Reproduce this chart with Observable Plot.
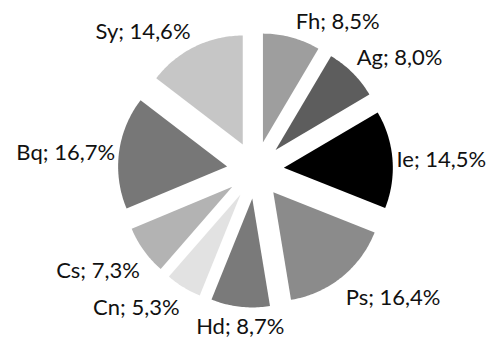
<!DOCTYPE html>
<html>
<head>
<meta charset="utf-8">
<script src="https://cdn.jsdelivr.net/npm/d3@7"></script>
<script src="https://cdn.jsdelivr.net/npm/@observablehq/plot@0.6"></script>
<style>
  html, body { margin: 0; padding: 0; background: #fff; }
  #chart svg { display: block; }
</style>
</head>
<body>
<div id="chart"></div>
<script>
// Categories in clockwise order starting at 12 o'clock, with their shares (%)
const names  = ["Fh", "Ag", "Ie", "Ps", "Hd", "Cn", "Cs", "Bq", "Sy"];
const shares = [8.5, 8.0, 14.5, 16.4, 8.7, 5.3, 7.3, 16.7, 14.6];

// Grey fill for each slice, same order as names
const palette = ["#9e9e9e", "#5d5d5d", "#000000", "#8b8b8b", "#7a7a7a",
                 "#e2e2e2", "#b3b3b3", "#777777", "#c6c6c6"];

// Layout (pixels): pie centre, radius and how far each slice is pulled out
const W = 490, H = 338;
const CX = 254.9, CY = 169.6, R = 109, PULL = 28.5;
const explode = PULL / R;

const total = d3.sum(shares);
const fmt = v => v.toFixed(1).replace(".", ",") + "%";

// Build slice outlines (in radius units, y pointing up) and label anchors
const outline = [];
const labels = [];
let acc = 0;
names.forEach((name, i) => {
  const a0 = acc / total * 2 * Math.PI;
  acc += shares[i];
  const a1 = acc / total * 2 * Math.PI;
  const mid = (a0 + a1) / 2;
  const s = Math.sin(mid), c = Math.cos(mid);
  const ox = explode * s, oy = explode * c;
  outline.push({name, x: ox, y: oy});
  const n = Math.max(2, Math.ceil((a1 - a0) / (Math.PI / 180)));
  for (let k = 0; k <= n; ++k) {
    const a = a0 + (a1 - a0) * k / n;
    outline.push({name, x: ox + Math.sin(a), y: oy + Math.cos(a)});
  }
  // label sits just outside the middle of the slice's outer arc
  const textAnchor = s > 0.2 ? "start" : s < -0.2 ? "end" : "middle";
  const lineAnchor = c > 0.2 ? "bottom" : c < -0.2 ? "top" : "middle";
  const dxp = textAnchor === "start" ? 4 : textAnchor === "end" ? -4 : 0;
  const dyp = lineAnchor === "bottom" ? -8 : lineAnchor === "top" ? 12 : 1;
  labels.push({
    text: `${name}; ${fmt(shares[i])}`,
    x: (1 + explode) * s + dxp / R,
    y: (1 + explode) * c - dyp / R,
    textAnchor, lineAnchor
  });
});

const chart = Plot.plot({
  width: W,
  height: H,
  margin: 0,
  x: {domain: [-CX / R, (W - CX) / R], axis: null},
  y: {domain: [-(H - CY) / R, CY / R], axis: null},
  color: {domain: names, range: palette},
  style: {fontFamily: "Lato, sans-serif", background: "#fff"},
  marks: [
    Plot.line(outline, {x: "x", y: "y", z: "name", fill: "name", stroke: null, curve: "linear-closed"}),
    ...labels.map(d => Plot.text([d], {
      x: "x", y: "y", text: "text",
      textAnchor: d.textAnchor, lineAnchor: d.lineAnchor,
      fontSize: 22, fill: "#111"
    }))
  ]
});

document.getElementById("chart").appendChild(chart);
</script>
</body>
</html>
